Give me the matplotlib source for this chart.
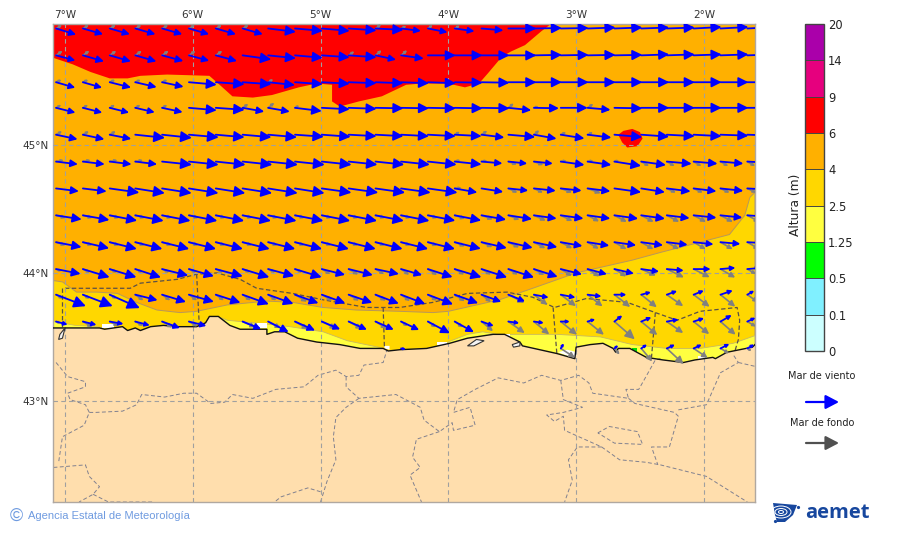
import matplotlib
matplotlib.use("Agg")
import numpy as np
import matplotlib.pyplot as plt
from matplotlib.colors import ListedColormap, BoundaryNorm
from matplotlib.colorbar import ColorbarBase
from matplotlib.patches import FancyArrowPatch, ArrowStyle, Polygon, Ellipse

# limites del mapa
LON_MIN, LON_MAX = -7.094, -1.60
LAT_MIN, LAT_MAX = 42.21, 45.945

LON_TICKS = [-7, -6, -5, -4, -3, -2]
LON_LABELS = ["7°W", "6°W", "5°W", "4°W", "3°W", "2°W"]
LAT_TICKS = [43, 44, 45]
LAT_LABELS = ["43°N", "44°N", "45°N"]

LEVELS = [0, 0.1, 0.5, 1.25, 2.5, 4, 6, 9, 14, 20]
LEVEL_LABELS = ["0", "0.1", "0.5", "1.25", "2.5", "4", "6", "9", "14", "20"]
LEVEL_COLORS = ["#ccffff", "#80f0ff", "#00ff00", "#ffff40", "#ffd700",
                "#ffb000", "#ff0000", "#e6007e", "#aa00aa"]
LAND_COLOR = "#ffdead"

# malla de las flechas
LONS = [-7.07, -6.86, -6.65, -6.45, -6.24, -6.03, -5.82, -5.61, -5.41, -5.20, -4.99, -4.78, -4.57, -4.37,
        -4.16, -3.95, -3.74, -3.53, -3.33, -3.12, -2.91, -2.70, -2.49, -2.29, -2.08, -1.87, -1.66]
LATS = [45.91, 45.70, 45.49, 45.29, 45.08, 44.87, 44.66, 44.45, 44.24, 44.03, 43.83, 43.62, 43.41]

# mar de viento: longitud y angulo bajo el este (grados)
WIND_LEN = [
    [21, 21, 21, 21, 21, 21, 21, 21, 28, 28, 28, 28, 28, 20, 20, 20, 22, 28, 28, 28, 28, 28, 28, 28, 28, 28, 28],
    [20, 22, 22, 22, 22, 21, 22, 29, 28, 28, 28, 28, 21, 23, 28, 28, 28, 28, 28, 28, 28, 28, 28, 28, 28, 28, 28],
    [20, 20, 22, 22, 22, 28, 29, 29, 27, 28, 28, 28, 28, 28, 28, 28, 28, 28, 28, 28, 28, 28, 28, 28, 28, 28, 28],
    [20, 20, 20, 20, 21, 28, 29, 22, 22, 27, 28, 28, 28, 28, 28, 28, 28, 23, 25, 27, 23, 28, 28, 28, 28, 28, 28],
    [22, 22, 22, 30, 30, 30, 29, 29, 29, 29, 29, 28, 28, 28, 28, 27, 23, 27, 23, 24, 24, 28, 28, 28, 28, 28, 28],
    [22, 22, 22, 22, 30, 30, 30, 30, 30, 30, 30, 29, 29, 29, 29, 27, 21, 19, 19, 24, 24, 27, 25, 25, 24, 23, 22],
    [23, 24, 30, 30, 30, 30, 30, 30, 30, 30, 30, 30, 30, 30, 30, 23, 22, 20, 22, 21, 23, 27, 24, 24, 23, 23, 22],
    [26, 27, 28, 29, 29, 29, 29, 29, 29, 29, 29, 29, 29, 29, 28, 27, 25, 24, 23, 23, 23, 24, 24, 23, 23, 22, 22],
    [26, 27, 28, 28, 28, 28, 28, 28, 28, 28, 28, 28, 28, 28, 28, 27, 26, 25, 24, 22, 22, 22, 22, 21, 20, 20, 19],
    [25, 28, 28, 27, 27, 26, 28, 28, 27, 28, 24, 25, 24, 22, 26, 28, 27, 27, 25, 22, 20, 20, 18, 17, 17, 15, 14],
    [32, 32, 33, 23, 25, 26, 26, 28, 27, 25, 25, 25, 25, 26, 27, 25, 21, 18, 15, 15, 14, 12, 10, 11, 11, 13, 8],
    [12, 14, 14, 15, 19, 18, 0, 20, 23, 22, 20, 20, 20, 20, 25, 22, 13, 11, 10, 9, 8, 10, 11, 12, 11, 13, 9],
    [0, 0, 0, 0, 0, 0, 0, 0, 0, 0, 0, 0, 0, 5, 0, 0, 0, 0, 0, 6, 0, 5, 7, 9, 9, 10, 8],
]
WIND_ANG = [
    [17, 16, 16, 16, 16, 16, 16, 16, 7, 5, 5, 4, 3, 7, 11, 8, 5, 0, -1, -1, -2, -2, -2, -2, -3, -3, -3],
    [15, 16, 16, 16, 15, 15, 15, 8, 6, 5, 4, 4, 12, 8, 0, 0, 0, 0, -1, -1, -1, -1, -2, -2, -2, -2, -2],
    [16, 16, 14, 13, 12, 5, 4, 4, 6, 4, 3, 2, 2, 2, 2, 1, 1, 0, 0, 0, 0, 0, 0, 0, 0, 0, 0],
    [14, 14, 14, 13, 12, 5, 4, 10, 10, 7, 3, 2, 1, 1, 1, 1, 1, 6, 1, 0, 5, 1, 0, 0, 0, 0, 0],
    [12, 12, 11, 6, 6, 5, 5, 5, 5, 4, 4, 3, 3, 3, 3, 3, 7, 5, 10, 9, 7, 5, 4, 3, 3, 2, 2],
    [7, 7, 7, 7, 6, 6, 6, 6, 6, 6, 6, 6, 6, 6, 6, 6, 5, 6, 6, 8, 8, 9, 8, 5, 5, 5, 3],
    [7, 7, 8, 9, 9, 9, 9, 9, 9, 9, 8, 8, 8, 8, 8, 10, 9, 6, 6, 6, 7, 8, 9, 7, 7, 6, 3],
    [9, 10, 11, 11, 11, 11, 11, 11, 11, 11, 11, 11, 11, 11, 11, 11, 10, 9, 8, 8, 8, 8, 8, 7, 6, 6, 4],
    [11, 13, 14, 14, 14, 14, 14, 14, 14, 14, 14, 14, 14, 14, 14, 14, 13, 13, 12, 10, 9, 8, 8, 7, 6, 5, 3],
    [11, 17, 17, 18, 14, 16, 15, 17, 15, 17, 14, 14, 12, 16, 18, 17, 18, 18, 18, 14, 15, 13, 8, 5, 0, -5, -5],
    [21, 21, 24, 14, 17, 16, 18, 20, 20, 20, 20, 19, 21, 21, 21, 20, 20, 22, 11, 11, 7, 0, -15, -20, -22, -19, -30],
    [15, 14, 10, 15, 20, 14, 0, 22, 27, 24, 23, 24, 24, 25, 28, 29, 20, 8, 8, 0, -17, -38, -23, -10, -18, -30, -25],
    [0, 0, 0, 0, 0, 0, 0, 0, 0, 0, 0, 0, 0, 10, 0, 0, 0, 0, 0, -60, 0, -40, -35, -25, -25, -27, -30],
]

# mar de fondo
SWELL_LEN = [
    [7, 7, 7, 7, 7, 7, 7, 7, 0, 0, 0, 0, 7, 6, 6, 6, 0, 0, 0, 0, 0, 0, 0, 0, 0, 0, 0],
    [8, 8, 8, 8, 8, 8, 8, 0, 0, 0, 0, 7, 8, 8, 0, 0, 0, 0, 0, 0, 0, 0, 0, 0, 0, 0, 0],
    [6, 6, 6, 6, 6, 0, 0, 0, 6, 0, 0, 0, 0, 0, 0, 0, 0, 0, 0, 0, 0, 0, 0, 0, 0, 0, 0],
    [6, 6, 6, 6, 6, 0, 0, 7, 8, 5, 0, 0, 0, 0, 0, 0, 0, 7, 5, 0, 7, 0, 0, 0, 0, 0, 0],
    [7, 7, 7, 0, 0, 0, 0, 0, 0, 0, 0, 0, 0, 0, 0, 6, 7, 0, 7, 6, 6, 0, 0, 0, 0, 0, 0],
    [8, 8, 8, 8, 0, 0, 0, 0, 0, 0, 0, 0, 0, 0, 0, 6, 6, 9, 10, 6, 6, 5, 9, 9, 9, 9, 9],
    [0, 0, 0, 0, 0, 0, 0, 0, 0, 0, 0, 0, 0, 0, 0, 7, 0, 10, 10, 12, 14, 0, 0, 10, 10, 10, 10],
    [10, 10, 10, 10, 10, 10, 10, 10, 10, 10, 10, 10, 10, 10, 10, 11, 12, 12, 13, 13, 13, 14, 14, 14, 14, 14, 14],
    [10, 10, 10, 10, 10, 10, 10, 10, 10, 10, 10, 10, 10, 10, 10, 11, 12, 12, 13, 13, 13, 14, 14, 14, 14, 14, 14],
    [6, 8, 8, 8, 8, 8, 8, 8, 8, 8, 10, 11, 10, 10, 11, 11, 11, 11, 12, 13, 14, 14, 16, 19, 18, 17, 10],
    [8, 8, 8, 10, 10, 10, 10, 10, 10, 14, 12, 12, 12, 11, 11, 12, 12, 18, 17, 19, 19, 20, 20, 20, 20, 19, 13],
    [5, 11, 10, 9, 12, 10, 0, 14, 14, 15, 16, 15, 13, 8, 10, 10, 15, 20, 20, 21, 21, 27, 21, 20, 20, 20, 10],
    [0, 0, 0, 0, 0, 0, 0, 0, 0, 0, 0, 0, 0, 0, 0, 0, 0, 0, 0, 17, 0, 8, 17, 23, 17, 10, 5],
]
SWELL_ANG = [
    [-30, -30, -30, -30, -30, -30, -30, -30, 0, 0, 0, 0, -35, -25, -35, -30, 0, 0, 0, 0, 0, 0, 0, 0, 0, 0, 0],
    [-35, -35, -35, -35, -35, -35, -35, 0, 0, 0, 0, -35, -40, -40, 0, 0, 0, 0, 0, 0, 0, 0, 0, 0, 0, 0, 0],
    [-25, -25, -25, -25, -25, 0, 0, 0, -30, 0, 0, 0, 0, 0, 0, 0, 0, 0, 0, 0, 0, 0, 0, 0, 0, 0, 0],
    [-30, -30, -30, -30, -30, 0, 0, -35, -40, -30, 0, 0, 0, 0, 0, 0, 0, -40, -20, 0, -35, 0, 0, 0, 0, 0, 0],
    [-30, -30, -30, 0, 0, 0, 0, 0, 0, 0, 0, 0, 0, 0, 0, -30, -35, 0, -40, -25, -25, 0, 0, 0, 0, 0, 0],
    [-10, -10, -10, -10, 0, 0, 0, 0, 0, 0, 0, 0, 0, 0, 0, -15, -10, 20, 20, -10, -10, -15, 30, 30, 30, 30, 30],
    [0, 0, 0, 0, 0, 0, 0, 0, 0, 0, 0, 0, 0, 0, 0, -5, 0, 25, 25, 20, 20, 0, 0, 25, 25, 25, 25],
    [15, 15, 15, 15, 15, 15, 15, 15, 15, 15, 15, 15, 15, 15, 15, 18, 20, 22, 24, 26, 28, 28, 28, 28, 28, 28, 28],
    [18, 18, 18, 18, 18, 18, 18, 18, 18, 18, 18, 18, 18, 18, 20, 22, 24, 26, 28, 28, 30, 30, 30, 30, 30, 30, 30],
    [20, 25, 25, 25, 25, 25, 25, 25, 25, 25, 30, 30, 30, 35, 33, 30, 30, 30, 30, 32, 32, 32, 24, 26, 27, 30, 30],
    [30, 30, 30, 35, 35, 35, 35, 35, 35, 30, 30, 30, 30, 35, 33, 33, 38, 27, 37, 37, 38, 38, 39, 35, 37, 39, 35],
    [20, 30, 28, 28, 30, 30, 0, 24, 28, 30, 26, 29, 32, 35, 35, 35, 40, 35, 40, 39, 39, 41, 40, 35, 39, 41, 30],
    [0, 0, 0, 0, 0, 0, 0, 0, 0, 0, 0, 0, 0, 0, 0, 0, 0, 0, 0, 33, 0, 50, 50, 43, 34, 30, 30],
]

# zonas de altura (lon, lat)
RED_LON = [-7.09, -6.94, -6.80, -6.65, -6.51, -6.41, -6.20, -5.87, -5.79, -5.69, -5.53, -5.38, -5.17, -5.03, -4.91,
           -4.91, -4.85, -4.70, -4.52, -4.33, -4.21, -4.00, -3.87, -3.76, -3.69, -3.58, -3.51, -3.40, -3.27, -3.19,
           -3.19, -7.09]
RED_LAT = [45.68, 45.63, 45.57, 45.52, 45.52, 45.54, 45.55, 45.54, 45.47, 45.38, 45.37, 45.39, 45.45, 45.48, 45.47,
           45.34, 45.30, 45.34, 45.38, 45.47, 45.48, 45.48, 45.45, 45.48, 45.56, 45.69, 45.73, 45.78, 45.89, 45.95,
           46.00, 46.00]
SPOT_LON = [-2.67, -2.63, -2.56, -2.50, -2.48, -2.52, -2.60, -2.64]
SPOT_LAT = [45.08, 45.11, 45.125, 45.10, 45.05, 44.99, 44.98, 45.02]
GOLD_LON = [-7.09, -7.02, -6.91, -6.75, -6.59, -6.44, -6.28, -6.10, -5.97, -5.73, -5.42, -5.22, -4.98, -4.72, -4.38,
            -4.12, -4.00, -3.60, -3.34, -3.00, -2.56, -2.34, -2.03, -1.80, -1.68, -1.64, -1.60, -1.60, -7.09]
GOLD_LAT = [43.94, 43.93, 43.85, 43.85, 43.84, 43.77, 43.71, 43.69, 43.70, 43.75, 43.78, 43.77, 43.73, 43.71, 43.70,
            43.69, 43.70, 43.79, 43.88, 44.00, 44.10, 44.16, 44.24, 44.30, 44.45, 44.59, 44.63, 43.00, 43.00]
YELLOW0_LON = [-7.09, -6.92, -6.75, -6.70, -6.70, -7.09]
YELLOW0_LAT = [43.62, 43.59, 43.58, 43.57, 43.50, 43.50]
YELLOW1_LON = [-5.78, -5.73, -5.42, -5.24, -4.98, -4.79, -4.50, -4.50, -5.78]
YELLOW1_LAT = [43.65, 43.63, 43.60, 43.58, 43.54, 43.47, 43.41, 43.20, 43.20]
YELLOW2_LON = [-4.03, -3.85, -3.73, -3.62, -3.54, -3.15, -2.81, -2.56, -2.29, -2.03, -1.77, -1.60, -1.60, -4.03]
YELLOW2_LAT = [43.45, 43.52, 43.54, 43.52, 43.52, 43.52, 43.50, 43.44, 43.41, 43.41, 43.45, 43.51, 43.20, 43.20]
WHITE_PATCHES = [
    [(-6.71, 43.60), (-6.62, 43.60), (-6.62, 43.57), (-6.71, 43.57)],
    [(-5.50, 43.61), (-5.42, 43.61), (-5.42, 43.57), (-5.50, 43.57)],
    [(-4.50, 43.43), (-4.46, 43.43), (-4.46, 43.40), (-4.50, 43.41)],
    [(-4.09, 43.46), (-4.01, 43.46), (-4.01, 43.44), (-4.09, 43.44)],
    [(-3.14, 43.38), (-3.07, 43.40), (-2.99, 43.38), (-3.01, 43.33)],
    [(-2.05, 43.35), (-1.99, 43.35), (-1.99, 43.33), (-2.05, 43.33)],
    [(-3.57, 43.52), (-3.52, 43.52), (-3.52, 43.49)],
]
GREEN_PATCHES = [
    [(-3.78, 43.50), (-3.73, 43.50), (-3.73, 43.46), (-3.78, 43.46)],
    [(-2.56, 43.41), (-2.52, 43.41), (-2.52, 43.38), (-2.56, 43.38)],
]

# costa
COAST_LON = [-7.09, -6.98, -6.73, -6.69, -6.55, -6.51, -6.45, -6.41, -6.33, -6.23, -6.12, -5.97, -5.90, -5.87, -5.80,
             -5.71, -5.63, -5.42, -5.42, -5.36, -5.28, -5.18, -5.03, -4.85, -4.69, -4.51, -4.47, -4.38, -4.17, -3.99,
             -3.85, -3.65, -3.56, -3.44, -3.42, -3.15, -3.01, -3.00, -2.89, -2.79, -2.71, -2.69, -2.67, -2.58, -2.45,
             -2.32, -2.16, -2.07, -1.93, -1.91, -1.82, -1.62, -1.60]
COAST_LAT = [43.57, 43.57, 43.57, 43.56, 43.58, 43.55, 43.57, 43.55, 43.58, 43.59, 43.58, 43.58, 43.61, 43.66, 43.66,
             43.59, 43.56, 43.56, 43.52, 43.54, 43.54, 43.49, 43.46, 43.44, 43.41, 43.41, 43.39, 43.40, 43.41, 43.45,
             43.49, 43.52, 43.52, 43.46, 43.43, 43.37, 43.33, 43.42, 43.44, 43.45, 43.41, 43.38, 43.41, 43.41, 43.34,
             43.32, 43.30, 43.32, 43.34, 43.33, 43.38, 43.42, 43.44]
INLETS = [
    [(-7.00, 43.57), (-7.04, 43.52), (-7.05, 43.48), (-7.02, 43.49)],
    [(-3.85, 43.43), (-3.78, 43.48), (-3.72, 43.47), (-3.80, 43.43)],
    [(-3.50, 43.44), (-3.44, 43.46), (-3.44, 43.43), (-3.49, 43.42)],
]

# limites provinciales
PROVINCES = [
    [(-7.07, 43.30), (-6.98, 43.19), (-6.84, 43.15), (-6.84, 43.11), (-6.98, 43.06), (-6.96, 43.01), (-6.84, 42.97),
     (-6.81, 42.91), (-6.85, 42.81), (-7.02, 42.72), (-7.05, 42.52)],
    [(-6.81, 42.91), (-6.76, 42.91), (-6.55, 42.92), (-6.44, 42.97), (-6.40, 43.05), (-6.22, 43.03), (-6.07, 43.06),
     (-5.97, 43.06), (-5.86, 42.98), (-5.75, 42.99), (-5.69, 43.05), (-5.53, 43.02), (-5.35, 43.09), (-5.13, 43.11),
     (-5.02, 43.20), (-4.88, 43.24), (-4.80, 43.19), (-4.70, 43.20), (-4.66, 43.28), (-4.51, 43.30), (-4.48, 43.40)],
    [(-4.80, 43.19), (-4.80, 43.11), (-4.70, 43.02), (-4.41, 43.05), (-4.22, 42.95), (-4.19, 42.85), (-4.07, 42.76),
     (-3.97, 42.83), (-3.96, 42.77), (-3.79, 42.81), (-3.83, 42.95), (-3.96, 42.91), (-3.93, 43.01), (-3.79, 43.09),
     (-3.61, 43.18), (-3.41, 43.14), (-3.27, 43.20), (-3.12, 43.16), (-2.98, 43.20), (-2.90, 43.14), (-2.87, 43.06),
     (-2.59, 43.02), (-2.61, 43.09), (-2.51, 43.09), (-2.47, 43.16), (-2.38, 43.32), (-2.34, 43.33)],
    [(-4.70, 43.02), (-4.80, 42.95), (-4.88, 42.87), (-4.90, 42.72), (-4.88, 42.54), (-4.95, 42.37), (-5.00, 42.21)],
    [(-5.00, 42.29), (-5.10, 42.32), (-5.31, 42.25), (-5.36, 42.21)],
    [(-4.07, 42.76), (-4.25, 42.70), (-4.28, 42.56), (-4.22, 42.48), (-4.30, 42.42), (-4.21, 42.21)],
    [(-3.12, 43.16), (-3.10, 43.01), (-2.95, 42.95), (-3.10, 42.91), (-3.23, 42.89), (-3.17, 42.84), (-3.10, 42.88),
     (-3.09, 42.77), (-2.80, 42.64), (-2.66, 42.54), (-2.45, 42.52), (-2.34, 42.50), (-1.98, 42.41), (-1.66, 42.21)],
    [(-2.80, 42.64), (-2.99, 42.64), (-3.06, 42.54), (-3.03, 42.38), (-3.09, 42.21)],
    [(-2.83, 42.75), (-2.74, 42.80), (-2.52, 42.76), (-2.48, 42.66), (-2.70, 42.67), (-2.83, 42.75)],
    [(-2.59, 43.02), (-2.54, 42.98), (-2.23, 42.91), (-2.20, 42.88), (-2.27, 42.64), (-2.41, 42.64), (-2.36, 42.50)],
    [(-2.20, 42.93), (-1.98, 42.97), (-1.87, 43.22), (-1.73, 43.30), (-1.77, 43.36)],
    [(-1.73, 43.30), (-1.60, 43.27)],
    [(-7.09, 42.48), (-6.84, 42.50), (-6.81, 42.41), (-6.73, 42.33), (-6.78, 42.27), (-6.89, 42.21)],
    [(-6.78, 42.27), (-6.66, 42.21), (-6.30, 42.21)],
]

# zonas costeras sobre el mar
SEA_ZONES = [
    [(-7.00, 43.88), (-6.73, 43.88), (-6.49, 43.88), (-6.41, 43.92), (-6.12, 43.95), (-5.97, 43.99), (-5.81, 44.00),
     (-5.63, 43.95), (-5.50, 43.88), (-5.22, 43.84), (-4.98, 43.79), (-4.64, 43.73), (-4.38, 43.73), (-4.12, 43.77),
     (-3.85, 43.84), (-3.54, 43.85), (-3.34, 43.81), (-3.17, 43.73), (-2.92, 43.80), (-2.60, 43.77), (-2.38, 43.69),
     (-2.21, 43.63), (-2.03, 43.70), (-1.74, 43.73), (-1.72, 43.63), (-1.73, 43.48), (-1.76, 43.38)],
    [(-7.02, 43.88), (-7.02, 43.57)],
    [(-5.97, 43.99), (-5.95, 43.61)],
    [(-4.51, 43.73), (-4.50, 43.41)],
    [(-3.18, 43.73), (-3.15, 43.36)],
    [(-2.38, 43.69), (-2.41, 43.34)],
]

W, H = 900, 533
PX_PT = 0.72
DEG_PER_UNIT = 1 / 128


def draw_arrow(ax, lon, lat, length, angle, color, lw, zorder):
    # el tamaño de la punta crece con la longitud
    if length <= 0:
        return
    a = np.radians(angle)
    dx = length * np.cos(a) * DEG_PER_UNIT
    dy = -length * np.sin(a) * DEG_PER_UNIT
    head = max(0.25 * length, 0.4 * length - 3) * PX_PT
    style = ArrowStyle("-|>", head_length=head, head_width=0.5 * head)
    ax.add_patch(FancyArrowPatch((lon, lat), (lon + dx, lat + dy), arrowstyle=style, mutation_scale=1,
                                 shrinkA=0, shrinkB=0, fc=color, ec=color, lw=lw, zorder=zorder))


fig = plt.figure(figsize=(W / 100, H / 100), dpi=100, facecolor="white")
ax = fig.add_axes([53 / W, 1 - 502 / H, 702 / W, 478 / H])
ax.set_xlim(LON_MIN, LON_MAX)
ax.set_ylim(LAT_MIN, LAT_MAX)
ax.set_facecolor(LEVEL_COLORS[5])

ax.fill(RED_LON, RED_LAT, color=LEVEL_COLORS[6], lw=0, zorder=1)
ax.fill(SPOT_LON, SPOT_LAT, color=LEVEL_COLORS[6], lw=0, zorder=1)
ax.fill(GOLD_LON, GOLD_LAT, fc=LEVEL_COLORS[4], ec="#b8985a", lw=0.7, zorder=1.1)
ax.fill(YELLOW0_LON, YELLOW0_LAT, fc=LEVEL_COLORS[3], ec="#c8b860", lw=0.5, zorder=1.2)
ax.fill(YELLOW1_LON, YELLOW1_LAT, fc=LEVEL_COLORS[3], ec="#c8b860", lw=0.6, zorder=1.2)
ax.fill(YELLOW2_LON, YELLOW2_LAT, fc=LEVEL_COLORS[3], ec="#c8b860", lw=0.6, zorder=1.2)
for p in GREEN_PATCHES:
    ax.add_patch(Polygon(p, fc="#00e000", ec="none", zorder=1.3))

land_x = COAST_LON + [LON_MAX, LON_MIN]
land_y = COAST_LAT + [LAT_MIN, LAT_MIN]
ax.fill(land_x, land_y, color=LAND_COLOR, lw=0, zorder=2)
for p in WHITE_PATCHES:
    ax.add_patch(Polygon(p, fc="white", ec="none", zorder=2.2))
ax.plot(COAST_LON, COAST_LAT, color="#111111", lw=1.0, zorder=3)
for p in INLETS:
    ax.add_patch(Polygon(p, fc="#f4f4f4", ec="#333333", lw=0.8, zorder=3))

for p in PROVINCES:
    ax.plot(*zip(*p), color="#80808f", lw=0.7, dashes=(4, 2.5), zorder=2.5)
for p in SEA_ZONES:
    ax.plot(*zip(*p), color="#5a5048", lw=0.9, dashes=(3.5, 2), zorder=2.5)

for lon in LON_TICKS:
    ax.axvline(lon, color="#a0a0a0", lw=0.8, dashes=(4, 3), zorder=2.6)
for lat in LAT_TICKS:
    ax.axhline(lat, color="#a0a0a0", lw=0.8, dashes=(4, 3), zorder=2.6)

for i, lat in enumerate(LATS):
    for j, lon in enumerate(LONS):
        draw_arrow(ax, lon, lat, SWELL_LEN[i][j], SWELL_ANG[i][j], "#808080", 1.2, 4)
for i, lat in enumerate(LATS):
    for j, lon in enumerate(LONS):
        draw_arrow(ax, lon, lat, WIND_LEN[i][j], WIND_ANG[i][j], "#0000ff", 1.3, 5)

ax.set_xticks(LON_TICKS)
ax.set_xticklabels(LON_LABELS)
ax.set_yticks(LAT_TICKS)
ax.set_yticklabels(LAT_LABELS)
ax.xaxis.tick_top()
ax.tick_params(length=0, labelsize=7.5, labelcolor="#333333", pad=3)
for s in ax.spines.values():
    s.set_color("#b0a8a0")
    s.set_linewidth(1.0)

# barra de color
cax = fig.add_axes([805 / W, 1 - 351 / H, 19 / W, 327 / H])
cmap = ListedColormap(LEVEL_COLORS)
norm = BoundaryNorm(LEVELS, cmap.N)
cb = ColorbarBase(cax, cmap=cmap, norm=norm, spacing="uniform", ticks=LEVELS, drawedges=True)
cb.ax.set_yticklabels(LEVEL_LABELS)
cb.ax.tick_params(length=0, labelsize=8.3, labelcolor="#222222", pad=3)
cb.outline.set_edgecolor("#444444")
cb.outline.set_linewidth(1.0)
cb.dividers.set_color("#444444")
cb.dividers.set_linewidth(0.7)
fig.text(795 / W, 1 - 205 / H, "Altura (m)", rotation=90, ha="center", va="center", fontsize=8.8, color="#222222")

# leyenda de flechas
for label, y_text, y_arrow, color in [("Mar de viento", 376, 402, "#0000ff"), ("Mar de fondo", 423, 443, "#505050")]:
    fig.text(822 / W, 1 - y_text / H, label, ha="center", va="center", fontsize=7, color="#222222")
    style = ArrowStyle("-|>", head_length=8, head_width=4.2)
    fig.add_artist(FancyArrowPatch((806 / W, 1 - y_arrow / H), (839 / W, 1 - y_arrow / H), arrowstyle=style,
                                   mutation_scale=1, shrinkA=0, shrinkB=0, fc=color, ec=color, lw=1.6,
                                   transform=fig.transFigure))

# pie
BLUE_TEXT = "#6f9be0"
fig.text(10 / W, 1 - 516 / H, "©", fontsize=13, color=BLUE_TEXT, ha="left", va="center",
         family=["Liberation Sans"])
fig.text(28 / W, 1 - 516 / H, "Agencia Estatal de Meteorología", fontsize=8, color=BLUE_TEXT, ha="left",
         va="center", family=["Liberation Sans"])

# logo
LOGO_BLUE = "#17479e"
fig.text(805 / W, 1 - 513 / H, "aemet", fontsize=14.5, fontweight="bold", color=LOGO_BLUE, ha="left",
         va="center", family=["Open Sans"])
lax = fig.add_axes([770 / W, 1 - 526 / H, 32 / W, 26 / H])
lax.set_xlim(770, 802)
lax.set_ylim(526, 500)
lax.axis("off")
lax.add_patch(Polygon([(773, 503), (797, 505), (793, 515), (785, 522), (777, 522), (775, 515)], fc=LOGO_BLUE, ec="none"))
for w, h in [(20, 12), (12, 7), (5, 3)]:
    lax.add_patch(Ellipse((781, 512), w, h, fc="none", ec="white", lw=0.7))
lax.plot([798, 775], [507, 521], ls="none", marker="o", ms=1.3, color=LOGO_BLUE)

fig.savefig("out.png", dpi=100)
